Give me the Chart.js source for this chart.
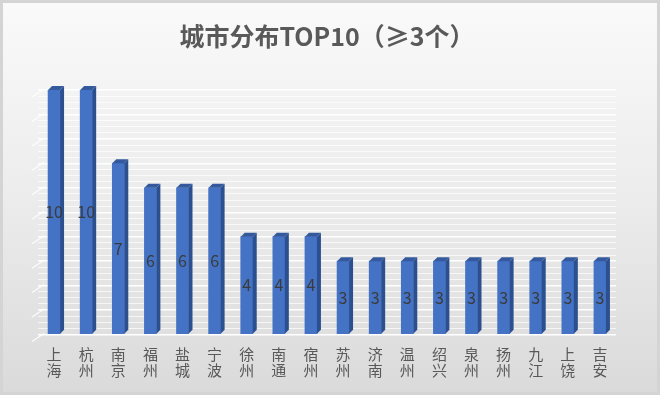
<!DOCTYPE html>
<html>
<head>
<meta charset="utf-8">
<script src="https://cdn.jsdelivr.net/npm/chart.js@4/dist/chart.umd.min.js"></script>
<style>
  html, body { margin: 0; padding: 0; background: #fff; }
  #wrap { width: 660px; height: 395px; }
</style>
</head>
<body>
<div id="wrap"><canvas id="city-chart" width="660" height="395"></canvas></div>
<script>
// ---- data ----
const cities = ['上海', '杭州', '南京', '福州', '盐城', '宁波', '徐州', '南通', '宿州',
                '苏州', '济南', '温州', '绍兴', '泉州', '扬州', '九江', '上饶', '吉安'];
const counts = [10, 10, 7, 6, 6, 6, 4, 4, 4, 3, 3, 3, 3, 3, 3, 3, 3, 3];
const chartTitle = '城市分布TOP10（≥3个）';

const FONT = '"Noto Sans CJK SC", "Noto Sans", sans-serif';
const DEPTH = 4;

// grey panel background with a thin frame
const panelBg = {
  id: 'panelBg',
  beforeDraw(chart) {
    const { ctx, width, height } = chart;
    ctx.save();
    const g = ctx.createLinearGradient(0, 0, 0, height);
    g.addColorStop(0, '#fafafa');
    g.addColorStop(0.5, '#ececec');
    g.addColorStop(1, '#dadada');
    ctx.fillStyle = g;
    ctx.fillRect(0, 0, width, height);
    ctx.strokeStyle = '#d4d4d4';
    ctx.lineWidth = 3;
    ctx.strokeRect(1.5, 1.5, width - 3, height - 3);
    ctx.restore();
  }
};

// left "wall" of the 3D plot: short slanted lines at each unit
const sideWall = {
  id: 'sideWall',
  beforeDatasetsDraw(chart) {
    const { ctx, chartArea, scales } = chart;
    ctx.save();
    ctx.strokeStyle = 'rgba(255,255,255,0.9)';
    ctx.lineWidth = 1.2;
    scales.y.ticks.forEach(t => {
      if (!Number.isInteger(t.value)) return;
      const y = scales.y.getPixelForValue(t.value);
      ctx.beginPath();
      ctx.moveTo(chartArea.left - 6, y + 7);
      ctx.lineTo(chartArea.left + 6, y - 1);
      ctx.stroke();
    });
    ctx.restore();
  }
};

// fake excel 3D: right side + top face on every bar, then value in the middle
const bars3d = {
  id: 'bars3d',
  afterDatasetsDraw(chart) {
    const { ctx } = chart;
    const meta = chart.getDatasetMeta(0);
    ctx.save();
    meta.data.forEach((bar, i) => {
      const { x, y, base, width } = bar.getProps(['x', 'y', 'base', 'width'], true);
      const l = x - width / 2, r = x + width / 2;
      // side
      ctx.fillStyle = '#2c4f8f';
      ctx.beginPath();
      ctx.moveTo(r, y);
      ctx.lineTo(r + DEPTH, y - DEPTH);
      ctx.lineTo(r + DEPTH, base - DEPTH);
      ctx.lineTo(r, base);
      ctx.closePath();
      ctx.fill();
      // top
      ctx.fillStyle = '#34599d';
      ctx.beginPath();
      ctx.moveTo(l, y);
      ctx.lineTo(l + DEPTH, y - DEPTH);
      ctx.lineTo(r + DEPTH, y - DEPTH);
      ctx.lineTo(r, y);
      ctx.closePath();
      ctx.fill();
      // value label
      ctx.fillStyle = '#3b3b3b';
      ctx.font = '16px ' + FONT;
      ctx.textAlign = 'center';
      ctx.textBaseline = 'middle';
      ctx.fillText(counts[i], x, (y + base) / 2);
    });
    ctx.restore();
  }
};

new Chart(document.getElementById('city-chart'), {
  type: 'bar',
  data: {
    labels: cities.map(c => c.split('')),
    datasets: [{
      data: counts,
      backgroundColor: '#4472c4',
      barThickness: 12,
      borderWidth: 0
    }]
  },
  options: {
    responsive: false,
    animation: false,
    layout: { padding: { left: 38, right: 44, bottom: 13 } },
    plugins: {
      legend: { display: false },
      tooltip: { enabled: false },
      title: {
        display: true,
        text: chartTitle,
        color: '#595959',
        font: { family: FONT, size: 25, weight: 'bold' },
        padding: { top: 21, bottom: 39 }
      }
    },
    scales: {
      x: {
        grid: { display: false },
        border: { display: false },
        ticks: {
          color: '#595959',
          font: { family: FONT, size: 15, lineHeight: 1.05 },
          maxRotation: 0,
          autoSkip: false,
          padding: 4
        }
      },
      y: {
        min: 0,
        max: 10,
        border: { display: false },
        ticks: { display: false, stepSize: 0.25 },
        grid: {
          color: c => Number.isInteger(c.tick.value) ? '#ffffff' : 'rgba(255,255,255,0.7)',
          lineWidth: c => Number.isInteger(c.tick.value) ? 1.5 : 1,
          drawTicks: false
        }
      }
    }
  },
  plugins: [panelBg, sideWall, bars3d]
});
</script>
</body>
</html>
